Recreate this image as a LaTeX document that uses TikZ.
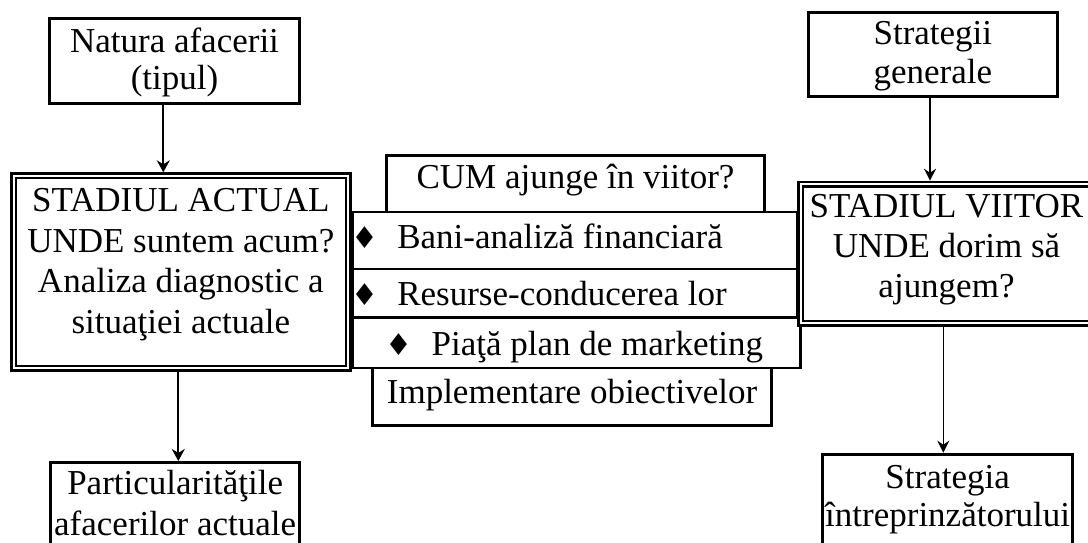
\documentclass[tikz,border=0pt]{standalone}
\usepackage{fontspec}
\setmainfont{Liberation Serif}
\newfontfamily\dejavu{DejaVu Sans}
\usetikzlibrary{arrows.meta}
\newcommand\boxlines[1]{\begin{tabular}[t]{@{}c@{}}#1\end{tabular}}
\newcommand\diam{{\dejavu\fontsize{30}{30}\selectfont ♦}}
\newcommand\bulrow[3]{\hbox to #1pt{\hspace*{#2pt}\makebox[0pt]{\diam}\hspace*{32.6pt}#3\hfil}}
\newcommand\fsz[1]{\fontsize{35}{#1}\selectfont}
\begin{document}
\begin{tikzpicture}[x=1pt,y=-1pt,
  every node/.style={inner sep=0pt, anchor=base},
  thickbox/.style={draw, line width=3pt, fill=white},
  midbox/.style={draw, line width=2.5pt, fill=white},
  dblbox/.style={draw, line width=2.5pt, double=white, double distance=2pt, outer sep=3.5pt, fill=white},
  arrowL/.style={line width=2pt, -{Stealth[length=12pt,width=13pt,inset=4pt]}},
  arrowR/.style={line width=1.5pt, -{Stealth[length=12pt,width=12pt,inset=4pt]}}]
\clip (0,0) rectangle (1088,543);
\fill[white] (0,0) rectangle (1088,543);
% middle stack
\node[midbox, minimum width=378.4pt, text height=33pt, text depth=23.7pt, font=\fsz{40}] (cum) at (575.5,188.3) {CUM ajunge în viitor?};
\node[midbox, text height=36.3pt, text depth=20.7pt, font=\fsz{40}] (bani) at (575,248.3) {\bulrow{445}{12.2}{Bani-analiză financiară}};
\node[midbox, text height=36.5pt, text depth=12pt, font=\fsz{40}] (resurse) at (575,305.5) {\bulrow{445}{12.2}{Resurse-conducerea lor}};
\node[midbox, text height=37.5pt, text depth=13pt, font=\fsz{40}] (piata) at (576.6,355) {\bulrow{448.2}{46.5}{Piaţă plan de marketing}};
\node[midbox, minimum width=399.4pt, text height=35.3pt, text depth=22.2pt, font=\fsz{40}] (impl) at (572,403.3) {Implementare obiectivelor};
% current and future state
\node[dblbox, minimum width=334.3pt, text height=35.9pt, text depth=156.5pt, font=\fsz{40.5}] (actual) at (180.85,211.7) {\boxlines{STADIUL ACTUAL\\UNDE suntem acum?\\Analiza diagnostic a\\situaţiei actuale}};
\node[dblbox, minimum width=291.6pt, text height=33.1pt, text depth=105.9pt, font=\fsz{40}] (viitor) at (946.5,217.3) {\boxlines{STADIUL VIITOR\\UNDE dorim să\\ajungem?}};
% outer boxes
\node[thickbox, minimum width=250pt, text height=34.2pt, text depth=50.8pt, font=\fsz{36.6}] (natura) at (174.5,52.7) {\boxlines{Natura afacerii\\(tipul)}};
\node[thickbox, minimum width=249.3pt, text height=32.8pt, text depth=51.2pt, font=\fsz{38.5}] (strateg) at (932.85,45) {\boxlines{Strategii\\generale}};
\node[thickbox, minimum width=248.7pt, text height=32pt, text depth=65.5pt, font=\fsz{40.5}] (partic) at (175.15,494.5) {\boxlines{Particularităţile\\afacerilor actuale}};
\node[thickbox, minimum width=250.3pt, text height=34.1pt, text depth=71.7pt, font=\fsz{38.5}] (intrep) at (947.65,488.3) {\boxlines{Strategia\\întreprinzătorului}};
% connectors
\draw[arrowL] (163.3,0 |- natura.south) -- (163.3,0 |- actual.north);
\draw[arrowL] (178.3,0 |- actual.south) -- (178.3,0 |- partic.north);
\draw[arrowR] (930,0 |- strateg.south) -- (930,0 |- viitor.north);
\draw[arrowR] (943.3,0 |- viitor.south) -- (943.3,0 |- intrep.north);
\end{tikzpicture}
\end{document}
